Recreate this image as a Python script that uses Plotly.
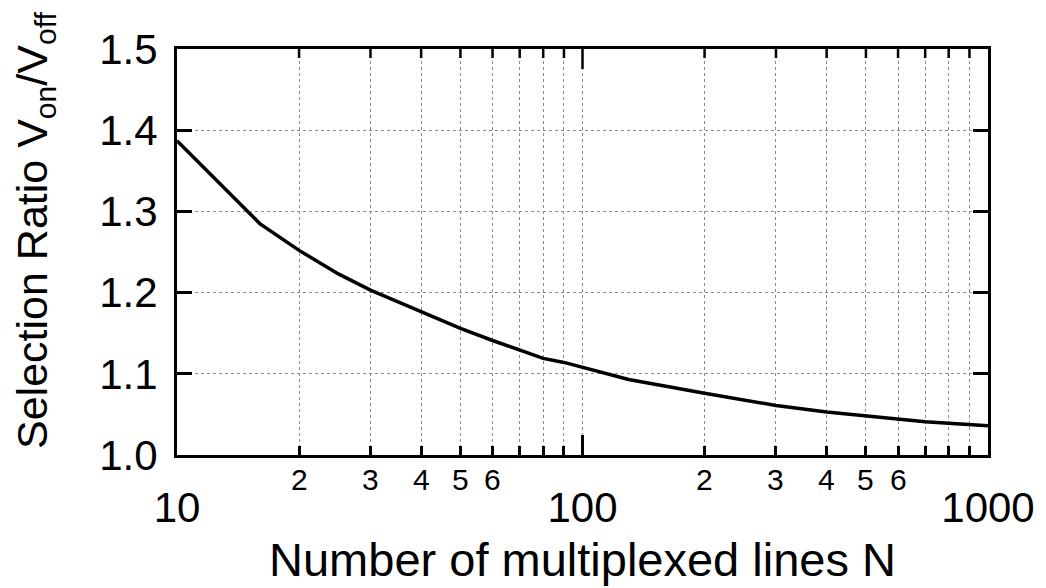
import math
import plotly.graph_objects as go

# Data
N = [10, 13, 16, 20, 25, 30, 40, 50, 60, 70, 80, 90, 100, 130, 200, 300, 400,
     500, 600, 700, 800, 900, 1000]
ratio = [1.387, 1.330, 1.285, 1.252, 1.223, 1.203, 1.176, 1.156, 1.141, 1.129,
         1.119, 1.114, 1.108, 1.093, 1.076, 1.061, 1.053, 1.048, 1.044, 1.041,
         1.039, 1.037, 1.036]

major_x = [10, 100, 1000]
major_x_text = ["10", "100", "1000"]
minor_x = [20, 30, 40, 50, 60, 70, 80, 90, 200, 300, 400, 500, 600, 700, 800, 900]
minor_lab_x = [20, 30, 40, 50, 60, 200, 300, 400, 500, 600]
minor_lab_text = ["2", "3", "4", "5", "6", "2", "3", "4", "5", "6"]
y_ticks = [1.0, 1.1, 1.2, 1.3, 1.4, 1.5]
y_text = ["1.0", "1.1", "1.2", "1.3", "1.4", "1.5"]

FONT = "Liberation Sans, Arial, Helvetica, sans-serif"
GRID = "#8a8a8a"
PLOT_H = 406  # plot-area height in px (588 - 49 - 133)

fig = go.Figure()
fig.add_trace(go.Scatter(x=N, y=ratio, mode="lines",
                         line=dict(color="black", width=3.5),
                         showlegend=False, hoverinfo="skip"))

# inward tick marks along the top frame, drawn on a hidden 0..1 overlay y axis
tx, ty = [], []
for v, ln in [(v, 9) for v in minor_x] + [(100, 20)]:
    tx += [v, v, None]
    ty += [1.0, 1.0 - ln / PLOT_H, None]
fig.add_trace(go.Scatter(x=tx, y=ty, mode="lines", yaxis="y2",
                         line=dict(color="black", width=2.5),
                         showlegend=False, hoverinfo="skip", cliponaxis=False))

# minor decade labels (2..6) placed at their positions on the log axis
for v, t in zip(minor_lab_x, minor_lab_text):
    fig.add_annotation(x=math.log10(v), xref="x", y=0, yref="paper",
                       yanchor="top", xanchor="center", yshift=-6,
                       text=t, showarrow=False,
                       font=dict(size=30, family=FONT, color="black"))

# y-axis title
fig.add_annotation(x=0, xref="paper", y=0.5, yref="paper",
                   xanchor="center", yanchor="middle", xshift=-142, yshift=22,
                   textangle=-90, showarrow=False,
                   text="Selection Ratio V<sub>on</sub>/V<sub>off</sub>",
                   font=dict(size=43, family=FONT, color="black"))

fig.update_layout(
    width=1046, height=588,
    margin=dict(l=177, r=58, t=49, b=133, autoexpand=False),
    paper_bgcolor="white", plot_bgcolor="white",
    font=dict(family=FONT, color="black"),
    xaxis=dict(
        type="log", range=[1, 3],
        showline=True, linecolor="black", linewidth=3, mirror=True,
        ticks="inside", ticklen=20, tickwidth=2.5, tickcolor="black",
        tickvals=major_x, ticktext=major_x_text,
        tickfont=dict(size=42, family=FONT), ticklabelstandoff=14,
        showgrid=True, gridcolor=GRID, griddash="dot", gridwidth=1,
        zeroline=False,
        minor=dict(tickvals=minor_x, ticks="inside", ticklen=9, tickwidth=2.5,
                   tickcolor="black", showgrid=True, gridcolor=GRID,
                   griddash="dot", gridwidth=1),
        title=dict(text="Number of multiplexed lines N",
                   font=dict(size=47, family=FONT), standoff=13),
        automargin=False,
    ),
    yaxis=dict(
        range=[1.0, 1.5],
        showline=True, linecolor="black", linewidth=3, mirror="allticks",
        ticks="inside", ticklen=15, tickwidth=3, tickcolor="black",
        tickvals=y_ticks, ticktext=y_text,
        tickfont=dict(size=42, family=FONT), ticklabelstandoff=8,
        showgrid=True, gridcolor=GRID, griddash="dot", gridwidth=1,
        zeroline=False,
        automargin=False,
    ),
    yaxis2=dict(
        range=[0, 1], overlaying="y", side="right", anchor="x",
        visible=False, fixedrange=True,
    ),
)

fig.write_html("out.html")
